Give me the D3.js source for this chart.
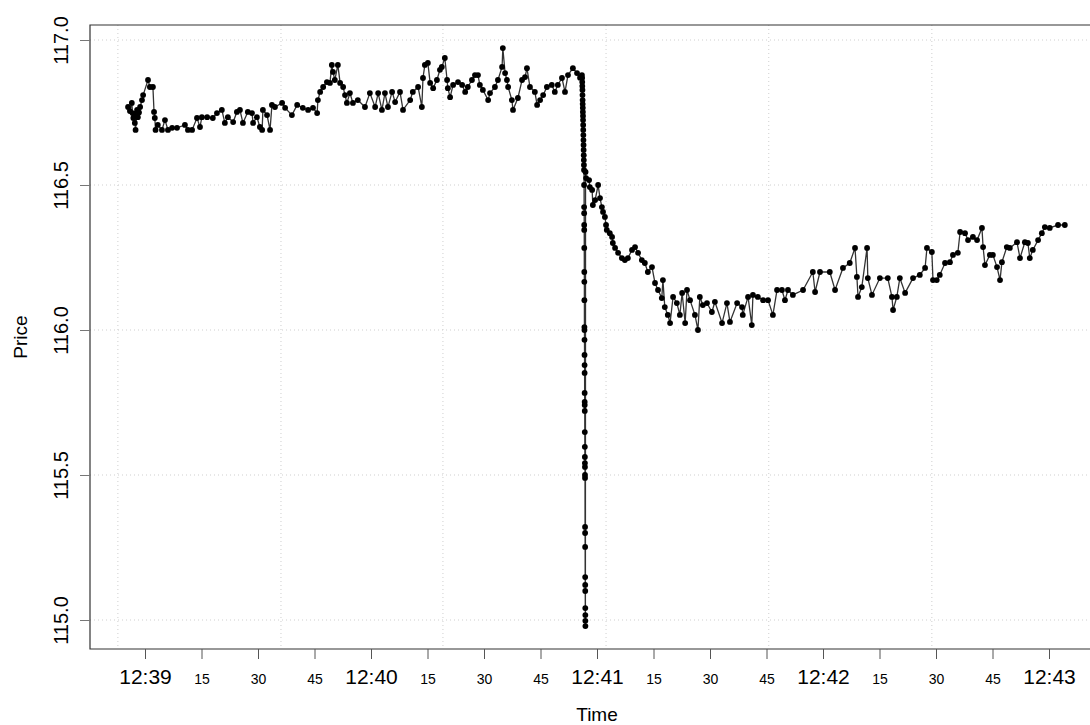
<!DOCTYPE html>
<html>
<head>
<meta charset="utf-8">
<script src="https://cdn.jsdelivr.net/npm/d3@7"></script>
<style>
  body { margin: 0; background: #fff; }
  svg { font-family: "Liberation Sans", Arial, sans-serif; }
</style>
</head>
<body>
<div id="grafico-container"></div>
<script>
// Tiempos en segundos desde las 12:39:00, precios
const preSec = [-4.5, -4.0, -3.5, -3.3, -3.1, -2.9, -2.7, -2.5, -2.3, -2.1, -1.9, -1.6, -1.3, -0.8, -0.5, 0.8, 1.3, 2.1, 2.4, 2.6,
  2.8, 3.4, 4.5, 5.3, 6.1, 7.2, 8.5, 10.6, 11.4, 12.5, 13.8, 14.6, 15.1, 16.5, 18.0, 19.1, 20.4, 21.2, 22.0, 23.4,
  24.4, 25.2, 26.0, 27.3, 28.4, 28.7, 29.7, 30.5, 31.1, 31.3, 32.4, 33.2, 33.7, 34.5, 36.4, 37.2, 39.0, 40.4, 41.9, 43.3,
  44.6, 45.7, 45.9, 46.5, 47.3, 48.3, 49.1, 49.6, 49.9, 50.4, 51.2, 51.8, 52.6, 53.1, 53.6, 54.4, 55.2, 56.5, 58.4, 59.7,
  61.1, 61.9, 62.9, 63.7, 64.5, 65.6, 66.4, 67.7, 68.5, 70.4, 71.1, 72.5, 73.5, 73.8, 74.3, 75.1, 75.7, 76.5, 77.5, 78.3,
  78.8, 79.6, 80.2, 80.4, 81.0, 81.8, 83.1, 84.2, 85.0, 85.7, 86.8, 87.6, 88.4, 88.9, 89.7, 91.1, 91.6, 92.9, 93.7, 94.8,
  95.0, 95.6, 96.1, 96.4, 97.4, 97.7, 99.0, 100.1, 100.9, 101.4, 102.2, 103.5, 104.1, 104.9, 105.7, 106.7, 108.0, 108.8, 109.6, 110.7,
  111.5, 112.3, 113.6, 114.7, 115.5, 116.0];
const prePrice = [116.769, 116.755, 116.783, 116.748, 116.731, 116.745, 116.714, 116.690, 116.735, 116.759, 116.734, 116.750, 116.769, 116.793, 116.810, 116.862, 116.838, 116.838, 116.752, 116.731,
  116.690, 116.707, 116.690, 116.724, 116.690, 116.697, 116.697, 116.707, 116.690, 116.690, 116.731, 116.700, 116.734, 116.734, 116.731, 116.748, 116.759, 116.714, 116.734, 116.717,
  116.752, 116.759, 116.714, 116.752, 116.748, 116.714, 116.734, 116.700, 116.690, 116.759, 116.741, 116.690, 116.776, 116.769, 116.783, 116.766, 116.741, 116.776, 116.766, 116.759,
  116.766, 116.748, 116.793, 116.821, 116.838, 116.855, 116.852, 116.914, 116.890, 116.862, 116.914, 116.852, 116.838, 116.810, 116.783, 116.817, 116.783, 116.793, 116.769, 116.817,
  116.769, 116.817, 116.759, 116.817, 116.769, 116.821, 116.786, 116.821, 116.759, 116.793, 116.821, 116.838, 116.769, 116.869, 116.914, 116.921, 116.852, 116.834, 116.862, 116.897,
  116.907, 116.938, 116.862, 116.834, 116.803, 116.845, 116.855, 116.845, 116.821, 116.838, 116.862, 116.879, 116.879, 116.845, 116.828, 116.793, 116.817, 116.838, 116.862, 116.907,
  116.972, 116.886, 116.862, 116.838, 116.793, 116.759, 116.800, 116.862, 116.872, 116.903, 116.838, 116.821, 116.776, 116.793, 116.810, 116.838, 116.845, 116.821, 116.845, 116.869,
  116.821, 116.879, 116.903, 116.886, 116.870, 116.879];

const crashSec = [116.05, 116.08, 116.10, 116.13, 116.15, 116.18, 116.20, 116.23, 116.25, 116.28, 116.30, 116.33, 116.35, 116.38, 116.40, 116.43, 116.45, 116.48, 116.50, 116.53,
  116.55, 116.57, 116.58, 116.59, 116.60, 116.61, 116.62, 116.63, 116.64, 116.65, 116.66, 116.67, 116.68, 116.69, 116.70, 116.71, 116.72, 116.73, 116.74, 116.75,
  116.76, 116.77, 116.78, 116.79, 116.80, 116.81, 116.82, 116.83, 116.84, 116.85, 116.86, 116.87, 116.88, 116.89, 116.90, 116.91, 116.92, 116.96];
const crashPrice = [116.869, 116.855, 116.841, 116.828, 116.810, 116.793, 116.779, 116.766, 116.752, 116.738, 116.724, 116.707, 116.690, 116.672, 116.655, 116.638, 116.621, 116.603, 116.586, 116.569,
  116.552, 116.500, 116.424, 116.403, 116.362, 116.345, 116.283, 116.200, 116.166, 116.103, 116.010, 116.000, 115.966, 115.914, 115.879, 115.852, 115.783, 115.752, 115.741, 115.721,
  115.648, 115.597, 115.562, 115.541, 115.528, 115.500, 115.490, 115.321, 115.300, 115.252, 115.148, 115.121, 115.100, 115.041, 115.017, 114.997, 114.979, 116.545];

const postSec = [117.1, 117.9, 118.1, 118.7, 118.9, 119.5, 120.3, 120.8, 121.3, 121.6, 122.1, 122.4, 122.6, 123.4, 124.0, 124.2, 124.8, 125.6, 126.6, 127.4,
  128.2, 129.3, 130.1, 130.9, 131.9, 132.7, 133.5, 134.6, 135.4, 136.2, 137.2, 137.5, 138.0, 138.8, 139.4, 140.2, 141.2, 142.0, 142.6, 143.4,
  143.9, 144.7, 146.0, 146.8, 147.3, 148.1, 149.2, 150.5, 151.3, 153.2, 154.5, 155.3, 157.2, 158.5, 158.7, 160.1, 161.1, 161.4, 162.7, 164.1,
  165.4, 166.7, 167.8, 169.1, 169.9, 170.7, 172.0, 174.7, 177.3, 177.9, 179.2, 181.8, 183.2, 185.3, 187.1, 188.5, 189.0, 189.3, 190.3, 191.7,
  191.9, 193.0, 195.1, 197.2, 198.3, 198.6, 199.6, 200.4, 201.8, 203.9, 205.7, 207.1, 207.6, 208.9, 209.2, 210.2, 211.0, 212.4, 213.7, 214.5,
  215.8, 216.4, 217.7, 218.5, 219.8, 220.9, 222.2, 222.5, 223.0, 224.3, 225.1, 226.2, 227.0, 227.5, 228.8, 229.6, 231.5, 232.3, 233.6, 234.4,
  234.9, 235.7, 237.1, 238.1, 238.9, 240.2, 242.4, 244.2];
const postPrice = [116.524, 116.517, 116.493, 116.483, 116.431, 116.448, 116.500, 116.455, 116.424, 116.407, 116.390, 116.362, 116.345, 116.334, 116.321, 116.300, 116.283, 116.266, 116.248, 116.241,
  116.248, 116.276, 116.286, 116.266, 116.241, 116.231, 116.200, 116.217, 116.162, 116.138, 116.110, 116.172, 116.079, 116.052, 116.024, 116.114, 116.093, 116.052, 116.128, 116.024,
  116.138, 116.103, 116.052, 116.000, 116.114, 116.086, 116.093, 116.062, 116.097, 116.024, 116.093, 116.028, 116.093, 116.079, 116.052, 116.114, 116.017, 116.121, 116.114, 116.103,
  116.103, 116.052, 116.138, 116.138, 116.103, 116.138, 116.121, 116.138, 116.200, 116.131, 116.200, 116.200, 116.138, 116.214, 116.231, 116.283, 116.183, 116.114, 116.148, 116.283,
  116.179, 116.121, 116.179, 116.179, 116.114, 116.069, 116.114, 116.179, 116.128, 116.179, 116.190, 116.214, 116.283, 116.269, 116.172, 116.172, 116.190, 116.231, 116.234, 116.259,
  116.266, 116.338, 116.334, 116.310, 116.321, 116.310, 116.352, 116.286, 116.224, 116.259, 116.259, 116.217, 116.172, 116.234, 116.286, 116.283, 116.303, 116.248, 116.303, 116.300,
  116.248, 116.276, 116.310, 116.334, 116.355, 116.352, 116.362, 116.362];

// Marcas de los ejes y rejilla
const xTickSec = [0, 15, 30, 45, 60, 75, 90, 105, 120, 135, 150, 165, 180, 195, 210, 225, 240];
const yTicks = [115.0, 115.5, 116.0, 116.5, 117.0];
const gridSec = [-7.2, 36.1, 79.1, 122.4, 165.6, 208.9];

const base = new Date(2016, 0, 1, 12, 39, 0);
const toDate = s => new Date(base.getTime() + s * 1000);

const data = [];
[[preSec, prePrice], [crashSec, crashPrice], [postSec, postPrice]].forEach(([ts, ps]) => {
    ts.forEach((t, i) => data.push({ t: toDate(t), p: ps[i] }));
});

const width = 1090;
const height = 725;
const box = { left: 90, top: 25, right: 1094, bottom: 649 };

const svg = d3.select('#grafico-container')
    .append('svg')
    .attr('width', width)
    .attr('height', height);

const x = d3.scaleTime()
    .domain([toDate(0), toDate(240)])
    .range([145, 1049]);

const y = d3.scaleLinear()
    .domain([115, 117])
    .range([620, 40]);

// Rejilla punteada
svg.append('g')
    .selectAll('line.h')
    .data(yTicks)
    .enter()
    .append('line')
    .attr('x1', box.left).attr('x2', box.right)
    .attr('y1', d => y(d)).attr('y2', d => y(d))
    .attr('stroke', '#cfcfcf')
    .attr('stroke-dasharray', '1,3');

svg.append('g')
    .selectAll('line.v')
    .data(gridSec)
    .enter()
    .append('line')
    .attr('x1', d => x(toDate(d))).attr('x2', d => x(toDate(d)))
    .attr('y1', box.top).attr('y2', box.bottom)
    .attr('stroke', '#cfcfcf')
    .attr('stroke-dasharray', '1,3');

// Línea y puntos
const line = d3.line()
    .x(d => x(d.t))
    .y(d => y(d.p));

svg.append('path')
    .datum(data)
    .attr('d', line)
    .attr('fill', 'none')
    .attr('stroke', '#333')
    .attr('stroke-width', 1.3);

svg.append('g')
    .selectAll('circle')
    .data(data)
    .enter()
    .append('circle')
    .attr('cx', d => x(d.t))
    .attr('cy', d => y(d.p))
    .attr('r', 2.9)
    .attr('fill', '#000');

// Caja
svg.append('path')
    .attr('d', `M${box.right},${box.top}H${box.left}V${box.bottom}H${box.right}`)
    .attr('fill', 'none')
    .attr('stroke', '#333')
    .attr('stroke-width', 1.2);

// Eje X
const xAxis = svg.append('g')
    .attr('transform', `translate(0, ${box.bottom})`)
    .call(d3.axisBottom(x)
        .tickValues(xTickSec.map(toDate))
        .tickSize(10)
        .tickFormat(d => d.getSeconds() === 0 ? d3.timeFormat('%H:%M')(d) : d3.timeFormat('%S')(d)));
xAxis.select('.domain').remove();
xAxis.selectAll('line').attr('stroke', '#555');
xAxis.selectAll('text')
    .attr('y', 35)
    .attr('dy', 0)
    .attr('fill', '#000')
    .style('font-family', '"Liberation Sans", Arial, sans-serif')
    .style('font-size', d => d.getSeconds() === 0 ? '21px' : '14px');

// Eje Y
const yAxis = svg.append('g')
    .attr('transform', `translate(${box.left}, 0)`)
    .call(d3.axisLeft(y)
        .tickValues(yTicks)
        .tickSize(10)
        .tickFormat(d3.format('.1f')));
yAxis.select('.domain').remove();
yAxis.selectAll('line').attr('stroke', '#777');
yAxis.selectAll('text')
    .attr('x', null)
    .attr('dy', 0)
    .attr('text-anchor', 'middle')
    .attr('transform', 'translate(-22, 0) rotate(-90)')
    .attr('fill', '#000')
    .style('font-family', '"Liberation Sans", Arial, sans-serif')
    .style('font-size', '20px');

// Títulos de los ejes
svg.append('text')
    .attr('x', 597)
    .attr('y', 721)
    .attr('text-anchor', 'middle')
    .style('font-size', '19px')
    .text('Time');

svg.append('text')
    .attr('transform', 'translate(27, 337) rotate(-90)')
    .attr('text-anchor', 'middle')
    .style('font-size', '19px')
    .text('Price');
</script>
</body>
</html>
